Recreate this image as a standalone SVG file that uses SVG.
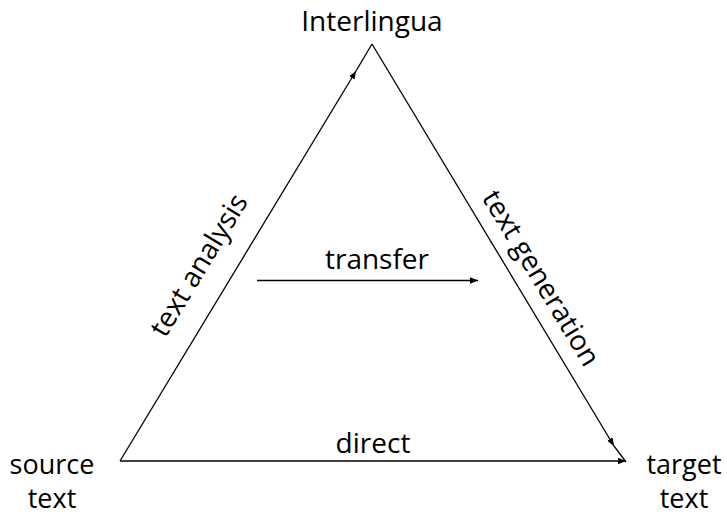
<svg xmlns="http://www.w3.org/2000/svg" width="727" height="517" viewBox="0 0 727 517">
<style>
text{font-family:"Open Sans","Liberation Sans",sans-serif;font-size:28px;fill:#000;text-anchor:middle}
.corner{font-size:27px}
.ln{stroke:#000;stroke-width:1.3;fill:none}
</style>
<defs>
<marker id="ah" viewBox="0 0 10 10" refX="10" refY="5" markerWidth="8" markerHeight="8" markerUnits="userSpaceOnUse" orient="auto">
<path d="M0,1 L10,5 L0,9 Z" fill="#000"/>
</marker>
</defs>
<rect width="727" height="517" fill="#fff"/>
<g id="connectors">
<line class="ln" x1="120" y1="461" x2="356" y2="71" marker-end="url(#ah)"/>
<line class="ln" x1="356" y1="71" x2="372" y2="44"/>
<line class="ln" x1="372" y1="44" x2="614" y2="446" marker-end="url(#ah)"/>
<line class="ln" x1="614" y1="446" x2="626" y2="462"/>
<line class="ln" x1="120" y1="461" x2="626" y2="461" marker-end="url(#ah)"/>
<line class="ln" x1="257" y1="280.5" x2="478" y2="280.5" marker-end="url(#ah)"/>
</g>
<g id="interlingua"><text x="372" y="31">Interlingua</text></g>
<g id="source"><text class="corner" x="52" y="474">source</text><text class="corner" x="52" y="508">text</text></g>
<g id="target"><text class="corner" x="684" y="474">target</text><text class="corner" x="684" y="508">text</text></g>
<g id="label-transfer"><text x="377" y="269">transfer</text></g>
<g id="label-direct"><text x="373" y="453">direct</text></g>
<g id="label-analysis"><text transform="translate(207,270) rotate(-58.8)">text analysis</text></g>
<g id="label-generation"><text transform="translate(533,283) rotate(58.8)">text generation</text></g>
</svg>
